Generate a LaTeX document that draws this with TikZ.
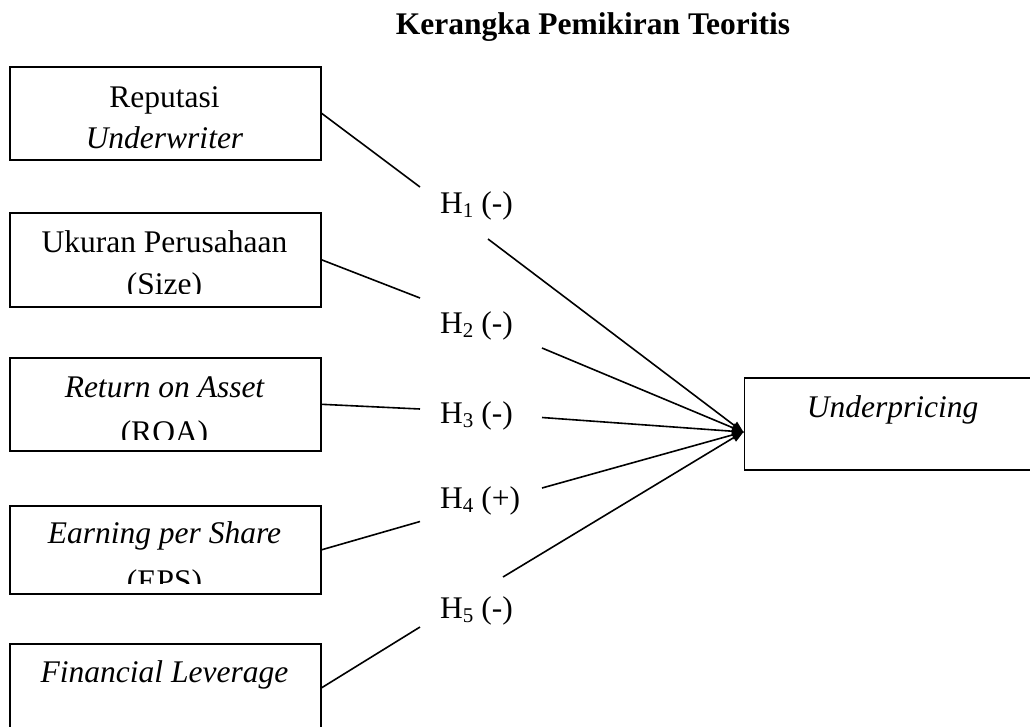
\documentclass[tikz,border=0pt]{standalone}
\usepackage{fontspec}
\setmainfont{Liberation Serif}
\usetikzlibrary{arrows.meta}
\newcommand\hsub[1]{\raisebox{-4pt}{\fontsize{21}{21}\selectfont #1}}
\begin{document}
\begin{tikzpicture}[x=1pt,y=-1pt,
  font=\fontsize{31.5}{38}\selectfont,
  varbox/.style={draw, line width=1.6pt, minimum width=311pt, inner sep=0pt, anchor=north west},
  txt/.style={anchor=base, inner sep=0pt},
  hlbl/.style={anchor=base west, inner sep=0pt},
  link/.style={line width=1.6pt},
  linkarrow/.style={line width=1.6pt, -{Triangle[length=12pt,width=9pt]}, shorten >=-1pt}]
\useasboundingbox (0,0) rectangle (1030,726);
\clip (0,0) rectangle (1030,726);

% title
\node[txt, font=\fontsize{31.5}{38}\selectfont\bfseries] (title) at (593,34) {Kerangka Pemikiran Teoritis};

% left boxes
\node[varbox, minimum height=93pt] (b1) at (9,66) {};
\node[varbox, minimum height=94pt] (b2) at (9,212) {};
\node[varbox, minimum height=93pt] (b3) at (9,357) {};
\node[varbox, minimum height=88pt] (b4) at (9,505) {};
\node[varbox, minimum height=88pt] (b5) at (9,643) {};

% texts in boxes
\node[txt] (t1a) at (164.5,107) {Reputasi};
\node[txt] (t1b) at (164.5,148) {\itshape Underwriter};
\node[txt] (t2a) at (164.5,252) {Ukuran Perusahaan};
\begin{scope}
  \clip (9,200) rectangle (320,293);
  \node[txt] (t2b) at (164.5,294) {(Size)};
\end{scope}
\node[txt] (t3a) at (164.5,397) {\itshape Return on Asset};
\begin{scope}
  \clip (9,400) rectangle (320,439);
  \node[txt] (t3b) at (164.5,442) {(ROA)};
\end{scope}
\node[txt] (t4a) at (164.5,543) {\itshape Earning per Share};
\begin{scope}
  \clip (9,550) rectangle (320,583);
  \node[txt] (t4b) at (164.5,591) {(EPS)};
\end{scope}
\node[txt] (t5a) at (164.5,682) {\itshape Financial Leverage};

% right box
\node[draw, line width=1.6pt, minimum width=320pt, minimum height=92pt, inner sep=0pt, anchor=north west] (dep) at (743.5,377) {};
\node[txt] (tdep) at (892.5,417) {\itshape Underpricing};

% hypothesis labels
\node[hlbl] (h1) at (440,213) {H\hsub{1} (-)};
\node[hlbl] (h2) at (440,333) {H\hsub{2} (-)};
\node[hlbl] (h3) at (440,423) {H\hsub{3} (-)};
\node[hlbl] (h4) at (440,508) {H\hsub{4} (+)};
\node[hlbl] (h5) at (440,618) {H\hsub{5} (-)};

% connector end points
\coordinate (u1) at (420,187);
\coordinate (u2) at (420,298);
\coordinate (u3) at (420,409);
\coordinate (u4) at (420,521.5);
\coordinate (u5) at (420,627);
\coordinate (l1) at (488,239);
\coordinate (l2) at (542,348);
\coordinate (l3) at (542,417.5);
\coordinate (l4) at (542,488);
\coordinate (l5) at (503,577);
\coordinate (tip) at (743,432);

% connectors
\draw[link] (b1.east) -- (u1);
\draw[link] (b2.east) -- (u2);
\draw[link] (b3.east) -- (u3);
\draw[link] (b4.east) -- (u4);
\draw[link] (b5.east) -- (u5);
\draw[linkarrow] (l1) -- (tip);
\draw[linkarrow] (l2) -- (tip);
\draw[linkarrow] (l3) -- (tip);
\draw[linkarrow] (l4) -- (tip);
\draw[linkarrow] (l5) -- (tip);
\end{tikzpicture}
\end{document}
